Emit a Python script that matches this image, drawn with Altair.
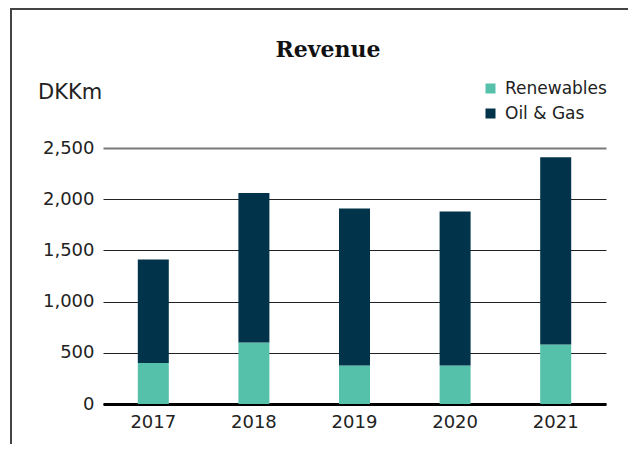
import altair as alt
import pandas as pd

years = ["2017", "2018", "2019", "2020", "2021"]
renewables = [400, 600, 375, 375, 580]
oil_gas = [1010, 1460, 1535, 1505, 1830]
series = ["Renewables", "Oil & Gas"]
colors = ["#55c1ab", "#01344a"]
y_ticks = [0, 500, 1000, 1500, 2000, 2500]

rows = []
for i, yr in enumerate(years):
    rows.append({"year": yr, "series": "Renewables", "value": renewables[i], "ord": 0})
    rows.append({"year": yr, "series": "Oil & Gas", "value": oil_gas[i], "ord": 1})
df = pd.DataFrame(rows)

FONT = "DejaVu Sans"

bars = alt.Chart(df).mark_bar(size=31).encode(
    x=alt.X("year:N", title=None, sort=years,
            scale=alt.Scale(paddingInner=0.69, paddingOuter=0.345),
            axis=alt.Axis(labelAngle=0, labelFontSize=18, labelFont=FONT, labelColor="#222",
                          labelPadding=9, ticks=False, domainColor="#000", domainWidth=3, grid=False)),
    y=alt.Y("value:Q", title=None, stack="zero",
            scale=alt.Scale(domain=[0, 2500], nice=False),
            axis=alt.Axis(values=y_ticks, format=",.0f", labelFontSize=18, labelFont=FONT, labelColor="#222",
                          labelPadding=9, ticks=False, domain=False, grid=True,
                          gridColor={"condition": {"test": "datum.value == 2500", "value": "#7a7a7a"}, "value": "#222"},
                          gridWidth={"condition": {"test": "datum.value == 2500", "value": 2}, "value": 1.2})),
    color=alt.Color("series:N", scale=alt.Scale(domain=series, range=colors),
                    legend=alt.Legend(title=None, orient="none", legendX=379, legendY=-68,
                                      symbolType="square", symbolSize=100, symbolStrokeWidth=0,
                                      labelFontSize=17, labelFont=FONT, labelColor="#222",
                                      rowPadding=7, labelOffset=6, padding=0)),
    order=alt.Order("ord:Q"),
)

one = alt.Data(values=[{}])

title = alt.Chart(one).mark_text(font="DejaVu Serif", fontWeight="bold", fontSize=22,
                                 align="center", baseline="alphabetic", color="#111").encode(
    x=alt.value(225), y=alt.value(-91), text=alt.value("Revenue"))

unit = alt.Chart(one).mark_text(font=FONT, fontSize=21, align="left",
                                baseline="alphabetic", color="#222").encode(
    x=alt.value(-65), y=alt.value(-49), text=alt.value("DKKm"))

frame_left = alt.Chart(one).mark_rule(color="#444", strokeWidth=2).encode(
    x=alt.value(-92), y=alt.value(-139), y2=alt.value(320))
frame_top = alt.Chart(one).mark_rule(color="#444", strokeWidth=2).encode(
    x=alt.value(-93), x2=alt.value(540), y=alt.value(-139))

chart = alt.layer(bars, title, unit, frame_left, frame_top).properties(
    width=503, height=256,
    autosize=alt.AutoSizeParams(type="none"),
    padding={"left": 95, "top": 140, "right": 22, "bottom": 40},
).configure_view(stroke=None)

chart.save("out.html", embed_options={"renderer": "svg", "actions": False})
